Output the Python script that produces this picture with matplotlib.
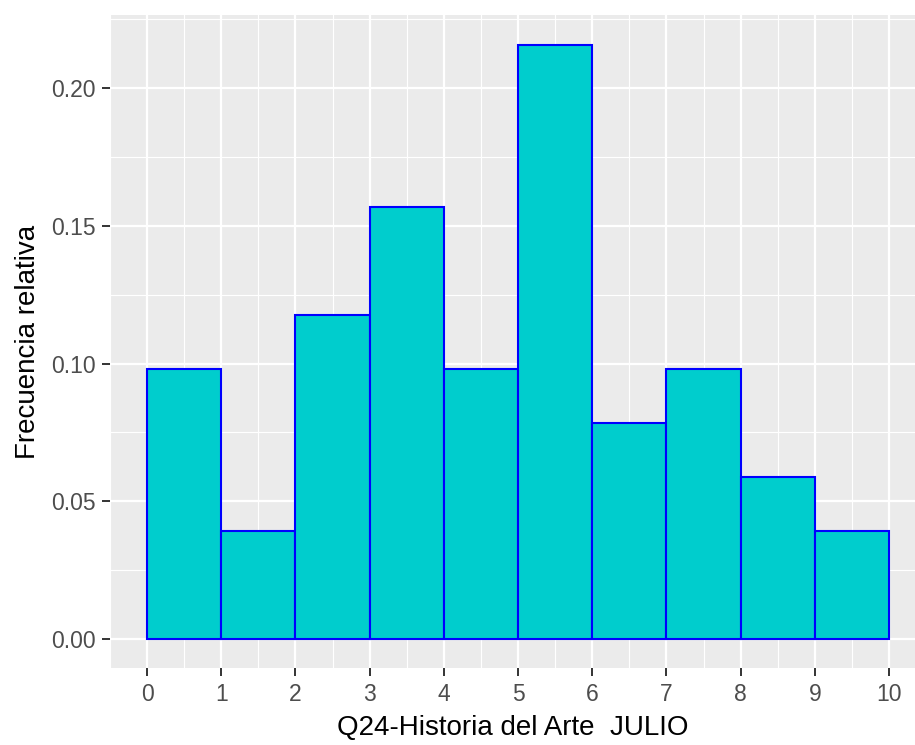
import numpy as np
import matplotlib
matplotlib.use("Agg")
import matplotlib.pyplot as plt
from matplotlib.ticker import MultipleLocator

# conteos por intervalo de nota (n = 51)
bin_edges = [0, 1, 2, 3, 4, 5, 6, 7, 8, 9, 10]
counts = [5, 2, 6, 8, 5, 11, 4, 5, 3, 2]
total = 51
x_ticks = [0, 1, 2, 3, 4, 5, 6, 7, 8, 9, 10]
y_ticks = [0.00, 0.05, 0.10, 0.15, 0.20]

rel_freq = np.array(counts) / total

plt.rcParams["font.family"] = ["Liberation Sans", "DejaVu Sans"]

fig = plt.figure(figsize=(9.15, 7.45), dpi=100)
ax = fig.add_axes([110 / 915, 77 / 745, 805 / 915, 653 / 745])
ax.set_facecolor("#EBEBEB")

ax.bar(bin_edges[:-1], rel_freq, width=1, align="edge",
       color="#00CDCD", edgecolor="#0000FF", linewidth=1.5, zorder=3)

ax.set_xlim(-0.5, 10.35)
ax.set_ylim(-0.0105, 0.2265)

ax.set_xticks(x_ticks)
ax.set_yticks(y_ticks)
ax.set_yticklabels([f"{v:.2f}" for v in y_ticks])
ax.xaxis.set_minor_locator(MultipleLocator(0.5))
ax.yaxis.set_minor_locator(MultipleLocator(0.025))

ax.grid(which="major", color="white", linewidth=1.6, zorder=0)
ax.grid(which="minor", color="white", linewidth=0.8, zorder=0)
ax.set_axisbelow(True)

for s in ax.spines.values():
    s.set_visible(False)

ax.tick_params(which="major", length=5.5, width=1.4, color="#333333",
               labelcolor="#4D4D4D", labelsize=16.5, pad=5)
ax.tick_params(which="minor", length=0)

ax.set_xlabel("Q24-Historia del Arte  JULIO", fontsize=20, color="black", labelpad=7)
ax.set_ylabel("Frecuencia relativa", fontsize=20, color="black", labelpad=7)

fig.savefig("out.png", dpi=100)
